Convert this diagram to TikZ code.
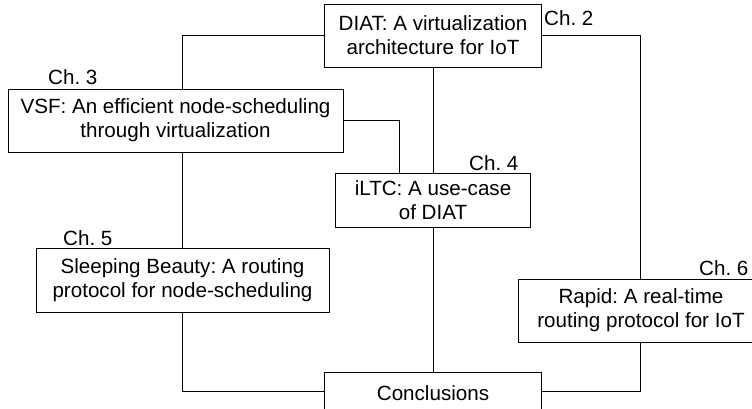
\documentclass[tikz,border=0pt]{standalone}
\usepackage{fontspec}
\setmainfont{Liberation Sans}
\frenchspacing
\begin{document}
\begin{tikzpicture}[x=1pt,y=-1pt,
  box/.style={draw=black, line width=0.8pt, inner sep=0pt, align=center,
    font=\fontsize{20.6}{24}\selectfont\frenchspacing},
  chlabel/.style={anchor=base west, inner sep=0pt, font=\fontsize{20.6}{24}\selectfont\frenchspacing},
  conn/.style={draw=black, line width=0.8pt}]
\useasboundingbox (0,0) rectangle (752,409);
\node[box, minimum width=217pt, minimum height=63pt] (DIAT) at (433,35.5) {DIAT: A virtualization\\architecture for IoT};
\node[box, minimum width=335pt, minimum height=63pt] (VSF) at (175.5,120.5) {VSF: An efficient node-scheduling\\through virtualization};
\node[box, minimum width=195pt, minimum height=54pt] (iLTC) at (433,200) {iLTC: A use-case\\of DIAT};
\node[box, minimum width=293pt, minimum height=64pt] (SB) at (182.5,280) {Sleeping Beauty: A routing\\protocol for node-scheduling};
\node[box, minimum width=246pt, minimum height=63pt] (Rapid) at (641,310.5) {Rapid: A real-time\\routing protocol for IoT};
\node[box, minimum width=217pt, minimum height=42pt] (Conc) at (433,393) {Conclusions};
\node[chlabel] (ch2) at (544,26) {Ch. 2};
\node[chlabel] (ch3) at (48,85) {Ch. 3};
\node[chlabel] (ch4) at (469,171) {Ch. 4};
\node[chlabel] (ch5) at (63,245) {Ch. 5};
\node[chlabel] (ch6) at (699,275) {Ch. 6};
\draw[conn] (DIAT.west) -| (VSF.north -| SB.north);
\draw[conn] (VSF.south -| SB.north) -- (SB.north);
\draw[conn] (SB.south) |- ([yshift=2pt]Conc.west);
\draw[conn] (DIAT.east) -| ([xshift=-1pt]Rapid.north);
\draw[conn] ([xshift=-1pt]Rapid.south) |- ([yshift=2pt]Conc.east);
\draw[conn] (DIAT.south) -- (iLTC.north);
\draw[conn] (iLTC.south) -- (Conc.north);
\draw[conn] (VSF.east) -| ([xshift=-34pt]iLTC.north);
\end{tikzpicture}
\end{document}
